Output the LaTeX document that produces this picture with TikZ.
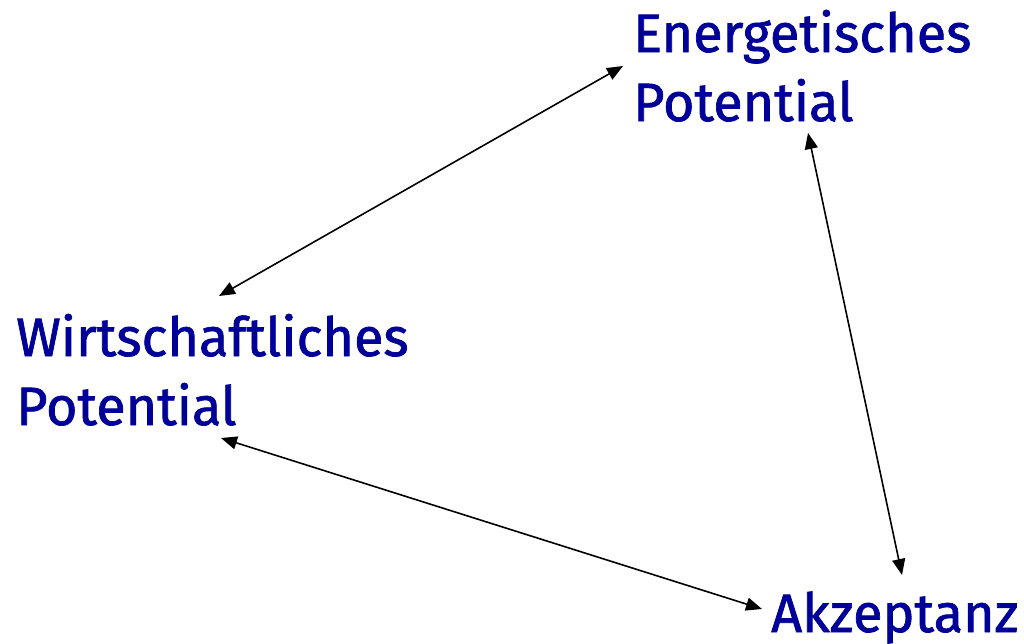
\documentclass[tikz,border=0pt]{standalone}
\usepackage{fontspec}
\setmainfont[FakeBold=1.3]{Fira Sans}
\usetikzlibrary{arrows.meta}
\definecolor{lblue}{RGB}{0,0,153}
\begin{document}
\begin{tikzpicture}[x=1pt,y=-1pt,
  lbl/.style={anchor=base west,inner sep=0pt,text=lblue,align=left,
    font=\fontsize{54}{69}\selectfont},
  conn/.style={line width=1.6pt,{Triangle[length=16pt,width=13pt]}-{Triangle[length=16pt,width=13pt]}}]
\useasboundingbox[fill=white] (0,0) rectangle (1024,643);
\node[lbl] (E) at (633,121) {Energetisches\\Potential};
\node[lbl] (W) at (16,425) {Wirtschaftliches\\Potential};
\node[lbl] (A) at (771,632) {Akzeptanz};
\coordinate (e1) at (623,66);
\coordinate (e2) at (808,133);
\coordinate (w1) at (219,296);
\coordinate (w2) at (221,438);
\coordinate (a1) at (902,575);
\coordinate (a2) at (762,609);
\draw[conn] (w1) -- (e1);
\draw[conn] (e2) -- (a1);
\draw[conn] (w2) -- (a2);
\end{tikzpicture}
\end{document}
